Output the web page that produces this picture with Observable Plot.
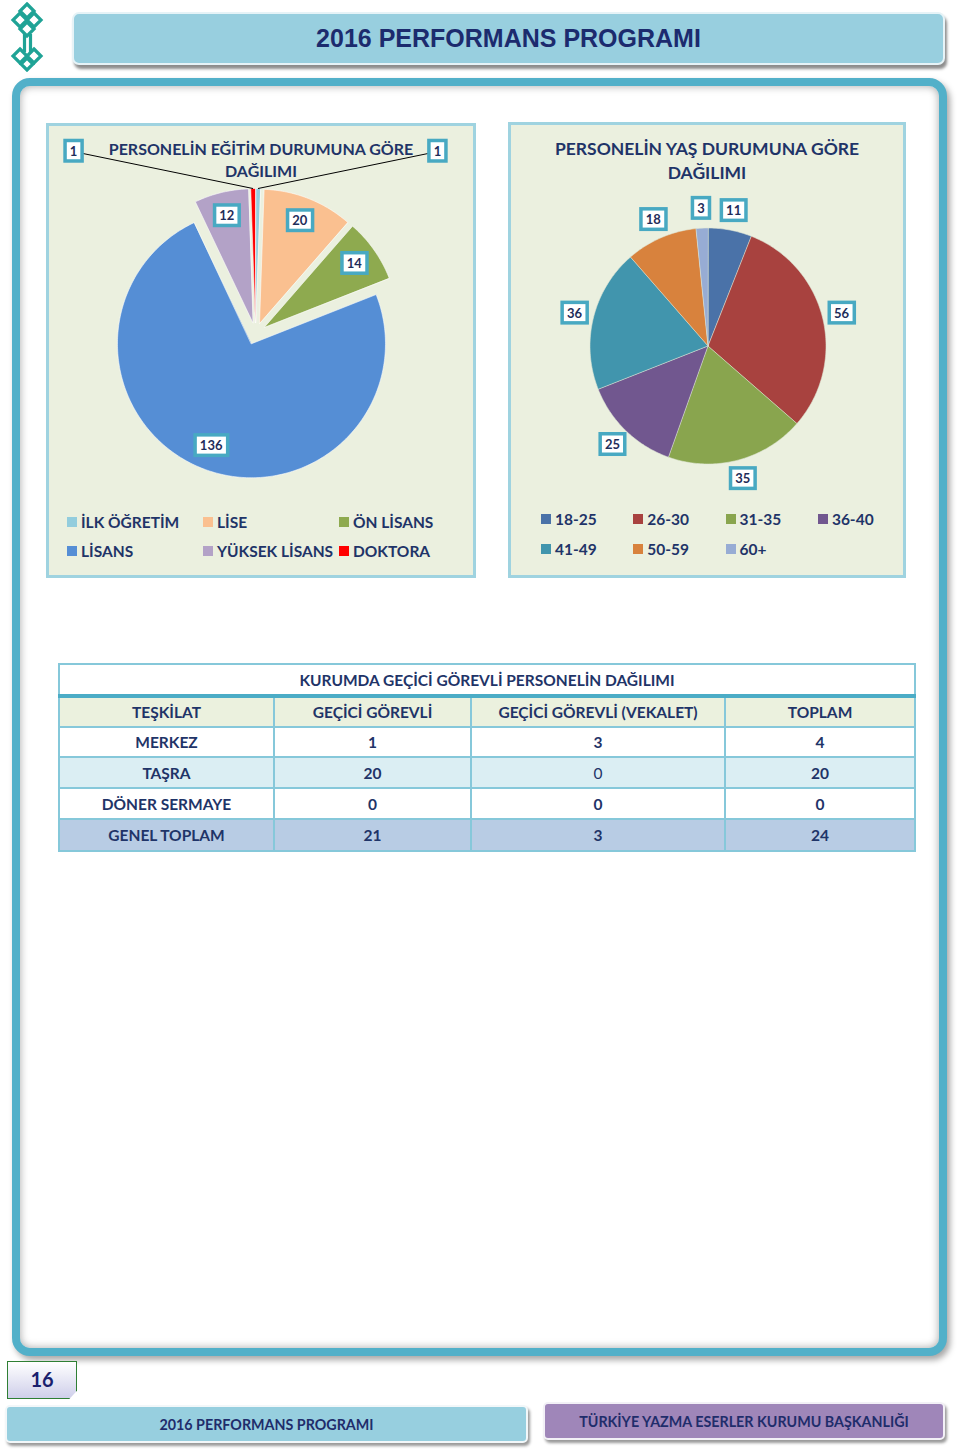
<!DOCTYPE html>
<html><head><meta charset="utf-8">
<script src="https://cdn.jsdelivr.net/npm/d3@7"></script>
<script src="https://cdn.jsdelivr.net/npm/@observablehq/plot@0.6"></script>
<style>
body{margin:0;background:#fff;}
#page{position:relative;width:960px;height:1453px;overflow:hidden;font-family:Lato,"Open Sans",sans-serif;color:#1f3468;background:#fff;}
.abs{position:absolute;box-sizing:border-box;}
.panel{background:#ebf0df;border:3px solid #9fd3e0;}
.ptitle{position:absolute;left:0;right:0;text-align:center;font-weight:bold;color:#1f3468;}
.legend{position:absolute;display:grid;font-weight:bold;color:#1f3468;}
.legend .item{display:flex;align-items:center;white-space:nowrap;}
.legend .sw{width:10px;height:10px;margin-right:4px;flex:none;}
table.t{border-collapse:collapse;table-layout:fixed;}
table.t td{border:2px solid #86c8da;text-align:center;font-weight:bold;font-size:15.5px;color:#1f3468;padding:0;}
</style></head><body><div id="page"></div>
<script>
// ---------- DATA ----------
const pageTitle = "2016 PERFORMANS PROGRAMI";
const eduTitle = ["PERSONELİN EĞİTİM DURUMUNA GÖRE", "DAĞILIMI"];
const eduCategories = ["İLK ÖĞRETİM", "LİSE", "ÖN LİSANS", "LİSANS", "YÜKSEK LİSANS", "DOKTORA"];
const eduValues = [1, 20, 14, 136, 12, 1];
const eduColors = ["#93cddd", "#fac090", "#8eaa4f", "#558ed5", "#b3a2c7", "#ff0000"];

const ageTitle = ["PERSONELİN YAŞ DURUMUNA GÖRE", "DAĞILIMI"];
const ageCategories = ["18-25", "26-30", "31-35", "36-40", "41-49", "50-59", "60+"];
const ageValues = [11, 56, 35, 25, 36, 18, 3];
const ageColors = ["#4a72a8", "#a8423f", "#89a54e", "#71578f", "#4195ad", "#d8823d", "#97acd4"];

const tableTitle = "KURUMDA GEÇİCİ GÖREVLİ PERSONELİN DAĞILIMI";
const tableColumns = ["TEŞKİLAT", "GEÇİCİ GÖREVLİ", "GEÇİCİ GÖREVLİ (VEKALET)", "TOPLAM"];
const tableRows = ["MERKEZ", "TAŞRA", "DÖNER SERMAYE", "GENEL TOPLAM"];
const tableTemp = [1, 20, 0, 21];
const tableProxy = [3, 0, 0, 3];
const tableTotal = [4, 20, 0, 24];

const pageNumber = "16";
const footerLeft = "2016 PERFORMANS PROGRAMI";
const footerRight = "TÜRKİYE YAZMA ESERLER KURUMU BAŞKANLIĞI";

// ---------- LAYOUT ----------
const page = document.getElementById("page");
function el(tag, cls, css, html) {
  const e = document.createElement(tag);
  if (cls) e.className = cls;
  if (css) e.style.cssText = css;
  if (html != null) e.innerHTML = html;
  return e;
}

// logo
page.insertAdjacentHTML("beforeend", `
<svg class="abs" style="left:2px;top:2px" width="52" height="70" viewBox="0 0 52 70">
 <g fill="none" stroke="#1fa396" stroke-width="3.2" stroke-linejoin="miter">
  <path d="M25 2 L32 9 L25 16 L18 9 Z"/>
  <path d="M18 11 L25 18 L18 25 L11 18 Z"/>
  <path d="M32 11 L39 18 L32 25 L25 18 Z"/>
  <path d="M25 20 L32 27 L25 34 L18 27 Z"/>
  <path d="M22.5 32 V50 M28.5 32 V50"/>
  <path d="M18 47 L25 54 L18 61 L11 54 Z"/>
  <path d="M32 47 L39 54 L32 61 L25 54 Z"/>
  <path d="M25 56 L31 62 L25 68 L19 62 Z"/>
 </g>
</svg>`);

// header bar
page.appendChild(el("div", "abs", "left:72px;top:12px;width:873px;height:53px;background:#98cfdf;border:2px solid #e6f3f7;border-radius:7px;box-shadow:2px 4px 3px rgba(0,0,0,0.45);"));
page.appendChild(el("div", "abs", "left:72px;top:12px;width:873px;height:53px;line-height:53px;text-align:center;font-family:'Liberation Sans',Arial,sans-serif;font-weight:bold;font-size:25px;color:#1c2b6e;", pageTitle));

// main frame
page.appendChild(el("div", "abs", "left:12px;top:78px;width:935px;height:1278px;border:8px solid #52b0c9;border-radius:18px;background:#fff;box-shadow:3px 4px 6px rgba(0,0,0,0.35), inset 0 0 9px rgba(0,0,0,0.35);"));

const layout = {
  edu: {panel: [46, 123, 430, 455], cx: 206, cy: 207, r: 134, explode: 11},
  age: {panel: [508, 122, 398, 456], cx: 196.5, cy: 220.5, r: 118, explode: 0}
};

function legend(host, cats, colors, css) {
  const lg = el("div", "legend", css);
  cats.forEach((c, i) => {
    const it = el("div", "item");
    it.appendChild(el("span", "sw", `background:${colors[i]}`));
    it.appendChild(el("span", null, null, c));
    lg.appendChild(it);
  });
  host.appendChild(lg);
}

function drawPie(cats, vals, colors, cfg, opts) {
  const [px, py, pw, ph] = cfg.panel;
  const panel = el("div", "abs panel", `left:${px}px;top:${py}px;width:${pw}px;height:${ph}px;`);
  page.appendChild(panel);
  const W = pw - 6, H = ph - 6;
  const r = cfg.r, ex = cfg.explode / r;
  const arcs = d3.pie().sort(null).value(d => d.value)(cats.map((key, i) => ({key, value: vals[i]})));
  const total = d3.sum(vals);
  const poly = [], labels = [], leaders = [];
  for (const a of arcs) {
    const key = a.data.key, mid = (a.startAngle + a.endAngle) / 2;
    const ox = ex * Math.sin(mid), oy = -ex * Math.cos(mid);
    poly.push({key, x: ox, y: oy});
    const n = Math.max(2, Math.ceil((a.endAngle - a.startAngle) * 180 / Math.PI));
    for (let k = 0; k <= n; k++) {
      const t = a.startAngle + (a.endAngle - a.startAngle) * k / n;
      poly.push({key, x: ox + Math.sin(t), y: oy - Math.cos(t)});
    }
    let lx, ly;
    if (opts.mode === "inside" && a.data.value / total < 0.02) {
      const ang = mid < Math.PI ? Math.PI / 4 : -Math.PI / 4;
      lx = opts.calloutDist * Math.sin(ang); ly = -opts.calloutDist * Math.cos(ang);
      leaders.push({x1: lx, y1: ly, x2: (1 + ex) * Math.sin(mid), y2: -(1 + ex) * Math.cos(mid)});
    } else {
      const d = ex + opts.labelDist;
      lx = d * Math.sin(mid); ly = -d * Math.cos(mid);
    }
    labels.push({key, value: a.data.value, x: lx, y: ly});
  }
  const svg = Plot.plot({
    width: W, height: H, margin: 0,
    style: {background: "transparent", overflow: "visible"},
    x: {domain: [-cfg.cx / r, (W - cfg.cx) / r], range: [0, W], axis: null},
    y: {domain: [-cfg.cy / r, (H - cfg.cy) / r], range: [0, H], axis: null},
    color: {type: "ordinal", domain: cats, range: colors},
    marks: [
      Plot.line(poly, {x: "x", y: "y", z: "key", fill: "key", stroke: opts.sliceStroke, strokeWidth: 0.8, strokeOpacity: 0.7, curve: "linear-closed"}),
      Plot.link(leaders, {x1: "x1", y1: "y1", x2: "x2", y2: "y2", stroke: "#000", strokeWidth: 1}),
      Plot.text(labels, {x: "x", y: "y", text: d => String(d.value), fill: "#1f2d5a", fontSize: 13, fontWeight: "bold", fontFamily: "Lato"})
    ]
  });
  svg.style.position = "absolute"; svg.style.left = "0px"; svg.style.top = "0px";
  panel.appendChild(svg);
  // boxes behind labels
  d3.select(svg).selectAll('g[aria-label="text"] text').each(function () {
    const b = this.getBBox();
    const rect = document.createElementNS("http://www.w3.org/2000/svg", "rect");
    rect.setAttribute("x", b.x - 4.75); rect.setAttribute("y", b.y - 2.25);
    rect.setAttribute("width", b.width + 9.5); rect.setAttribute("height", b.height + 4.5);
    rect.setAttribute("fill", "#fff"); rect.setAttribute("stroke", "#48a9c2"); rect.setAttribute("stroke-width", 3.5);
    const tr = this.getAttribute("transform"); if (tr) rect.setAttribute("transform", tr);
    this.parentNode.insertBefore(rect, this);
  });
  return panel;
}

const eduPanel = drawPie(eduCategories, eduValues, eduColors, layout.edu, {mode: "inside", labelDist: 0.82, calloutDist: 1.92, sliceStroke: "#ffffff"});
eduPanel.appendChild(el("div", "ptitle", "top:12px;font-size:16px;line-height:22px;", eduTitle.join("<br>")));
legend(eduPanel, eduCategories, eduColors, "left:18px;top:381px;grid-template-columns:repeat(3,136px);grid-auto-rows:29px;font-size:15.5px;");

const agePanel = drawPie(ageCategories, ageValues, ageColors, layout.age, {mode: "outside", labelDist: 1.165, sliceStroke: "#dfe6d6"});
agePanel.appendChild(el("div", "ptitle", "top:12px;font-size:17.5px;line-height:24px;", ageTitle.join("<br>")));
legend(agePanel, ageCategories, ageColors, "left:30px;top:379px;grid-template-columns:repeat(4,92.3px);grid-auto-rows:30px;font-size:15.5px;");

// table
const rowBg = ["#ffffff", "#dbeef3", "#ffffff", "#b8cce4"];
const rowH = [30, 31, 31, 32];
const regularCells = [[1, 2]];
let html = `<table class="t abs" style="left:58px;top:663px;width:856px;border:2px solid #5db6cd;">
<colgroup><col style="width:215px"><col style="width:197px"><col style="width:254px"><col style="width:190px"></colgroup>
<tr style="height:32px"><td colspan="4" style="background:#fff;border-bottom:4px solid #4bacc6;">${tableTitle}</td></tr>
<tr style="height:31px;background:#ebf1de">${tableColumns.map(c => `<td>${c}</td>`).join("")}</tr>`;
tableRows.forEach((rname, i) => {
  const vals = [tableTemp[i], tableProxy[i], tableTotal[i]];
  html += `<tr style="height:${rowH[i]}px;background:${rowBg[i]}"><td>${rname}</td>` +
    vals.map((v, j) => `<td style="${regularCells.some(([a, b]) => a === i && b === j + 1) ? "font-weight:normal" : ""}">${v}</td>`).join("") + `</tr>`;
});
html += `</table>`;
page.insertAdjacentHTML("beforeend", html);

// footer
page.appendChild(el("div", "abs", "left:7px;top:1361px;width:70px;height:38px;border:1.5px solid #2f7f34;background:linear-gradient(#ffffff,#cfcfea);clip-path:polygon(0 0,100% 0,100% 78%,89% 100%,0 100%);"));
page.appendChild(el("div", "abs", "left:7px;top:1361px;width:70px;height:38px;line-height:36px;text-align:center;font-weight:bold;font-size:20px;color:#1a1f6e;", pageNumber));
page.appendChild(el("div", "abs", "left:5px;top:1405px;width:523px;height:38px;line-height:36px;background:#97cfdf;border:2px solid #f2f7f9;border-radius:5px;box-shadow:2px 3px 3px rgba(0,0,0,0.4);text-align:center;font-weight:bold;font-size:14.3px;color:#1f2d6b;", footerLeft));
page.appendChild(el("div", "abs", "left:543px;top:1402px;width:402px;height:38px;line-height:36px;background:#9f86b9;border:2px solid #f2f0f6;border-radius:5px;box-shadow:2px 3px 3px rgba(0,0,0,0.4);text-align:center;font-weight:bold;font-size:14.3px;color:#1f2d6b;", footerRight));
</script></body></html>
